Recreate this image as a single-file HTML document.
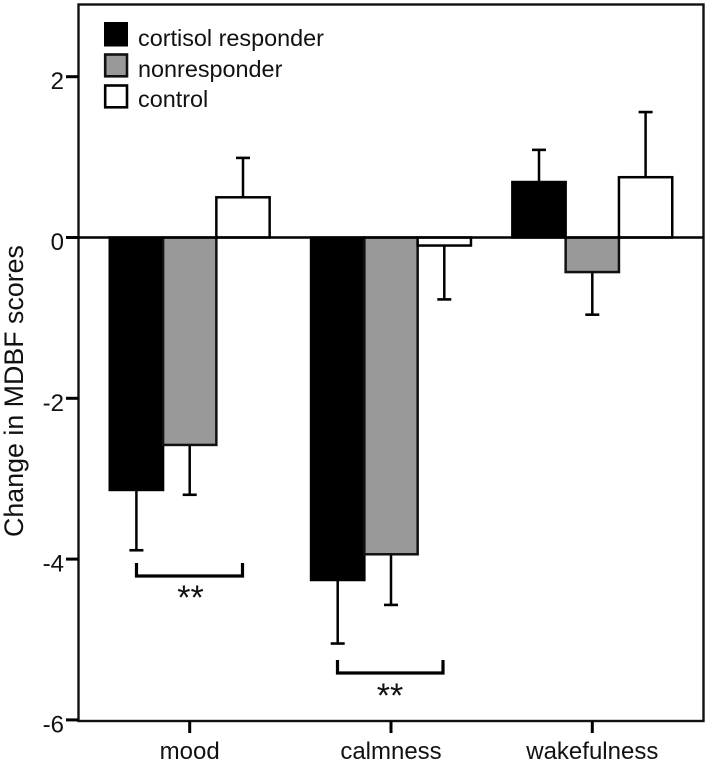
<!DOCTYPE html>
<html lang="en">
<head>
<meta charset="utf-8">
<title>Change in MDBF scores</title>
<style>
html,body{margin:0;padding:0;background:#fff;width:708px;height:763px;overflow:hidden}
svg{display:block}
text{font-family:"Liberation Sans",sans-serif;fill:#111}
</style>
</head>
<body>
<svg id="chart" width="708" height="763" viewBox="0 0 708 763"></svg>
<script>
const categories = ['mood', 'calmness', 'wakefulness'];
const seriesNames = ['cortisol responder', 'nonresponder', 'control'];
const responderValues = [-3.14, -4.26, 0.69];
const nonresponderValues = [-2.58, -3.94, -0.43];
const controlValues = [0.5, -0.1, 0.75];
const responderErrors = [-3.89, -5.05, 1.09];
const nonresponderErrors = [-3.2, -4.57, -0.96];
const controlErrors = [0.99, -0.77, 1.56];
const yTicks = [2, 0, -2, -4, -6];

const svg = document.getElementById('chart');
const NS = 'http://www.w3.org/2000/svg';
const plot = {left: 78.5, right: 703.5, top: 4.5, bottom: 721};
const y = v => 237.5 - 80.4 * v;
const x = i => 189.7 + 201.3 * i;
const barW = 53.3;

function make(tag, attrs, text) {
  const el = document.createElementNS(NS, tag);
  for (const k in attrs) el.setAttribute(k, attrs[k]);
  if (text !== undefined) el.textContent = text;
  svg.appendChild(el);
  return el;
}
function seg(x1, y1, x2, y2, w) {
  return make('line', {x1, y1, x2, y2, stroke: '#000', 'stroke-width': w});
}

const frame = make('rect', {x: plot.left, y: plot.top, width: plot.right - plot.left, height: plot.bottom - plot.top, fill: 'none', stroke: '#111', 'stroke-width': 2.4});



const seriesList = [
  {key: 'cortisol-responder', values: responderValues, errs: responderErrors, fill: '#000', stroke: '#000'},
  {key: 'nonresponder', values: nonresponderValues, errs: nonresponderErrors, fill: '#999', stroke: '#111'},
  {key: 'control', values: controlValues, errs: controlErrors, fill: '#fff', stroke: '#000'}
];

seriesList.forEach((s, si) => {
  categories.forEach((c, ci) => {
    const left = x(ci) + (si - 1.5) * barW;
    const center = left + barW / 2;
    const errLine = seg(center, y(s.values[ci]), center, y(s.errs[ci]), 2.5);
    
    
    const errCap = seg(center - 7, y(s.errs[ci]), center + 7, y(s.errs[ci]), 2.6);
    
    
    const top = Math.min(y(s.values[ci]), y(0));
    const h = Math.abs(y(s.values[ci]) - y(0));
    const bar = make('rect', {x: left, y: top, width: barW, height: h, fill: s.fill, stroke: s.stroke, 'stroke-width': 2.5});
    
    
  });
});

const zero = seg(plot.left, y(0), plot.right, y(0), 2.4);



yTicks.forEach(t => {
  const tick = seg(66, y(t), plot.left, y(t), 3);
  
  
  const label = make('text', {x: 64, y: y(t) + 12.5, 'text-anchor': 'end', 'font-size': 24}, String(t));
  
  
});

categories.forEach((c, i) => {
  const tick = seg(x(i), plot.bottom, x(i), 733, 3);
  
  
  const label = make('text', {x: x(i), y: 759, 'text-anchor': 'middle', 'font-size': 24}, c);
  
  
});

const yTitle = make('text', {transform: 'translate(23 391) rotate(-90)', 'text-anchor': 'middle', 'font-size': 26.8}, 'Change in MDBF scores');



const legendTops = [22, 54.5, 85.5];
const legendBaselines = [46, 77, 107];
seriesList.forEach((s, i) => {
  const swatch = make('rect', {x: i === 0 ? 104 : 105.2, y: legendTops[i], width: i === 0 ? 24 : 21.8, height: i === 0 ? 24.5 : 21.8, fill: s.fill, stroke: s.stroke, 'stroke-width': i === 0 ? 0 : 2.6});
  
  
  const label = make('text', {x: 138, y: legendBaselines[i], 'font-size': 23.4}, seriesNames[i]);
  
  
});

[[136.5, 242.5, 563, 576, 190.5, 609], [337.5, 443, 660, 673, 390, 707]].forEach((b, i) => {
  const path = make('path', {d: 'M' + b[0] + ' ' + b[2] + 'V' + b[3] + 'H' + b[1] + 'V' + b[2], fill: 'none', stroke: '#000', 'stroke-width': 3.2});
  
  
  const stars = make('text', {x: b[4], y: b[5], 'text-anchor': 'middle', 'font-size': 34}, '**');
  
  
});
</script>
</body>
</html>
